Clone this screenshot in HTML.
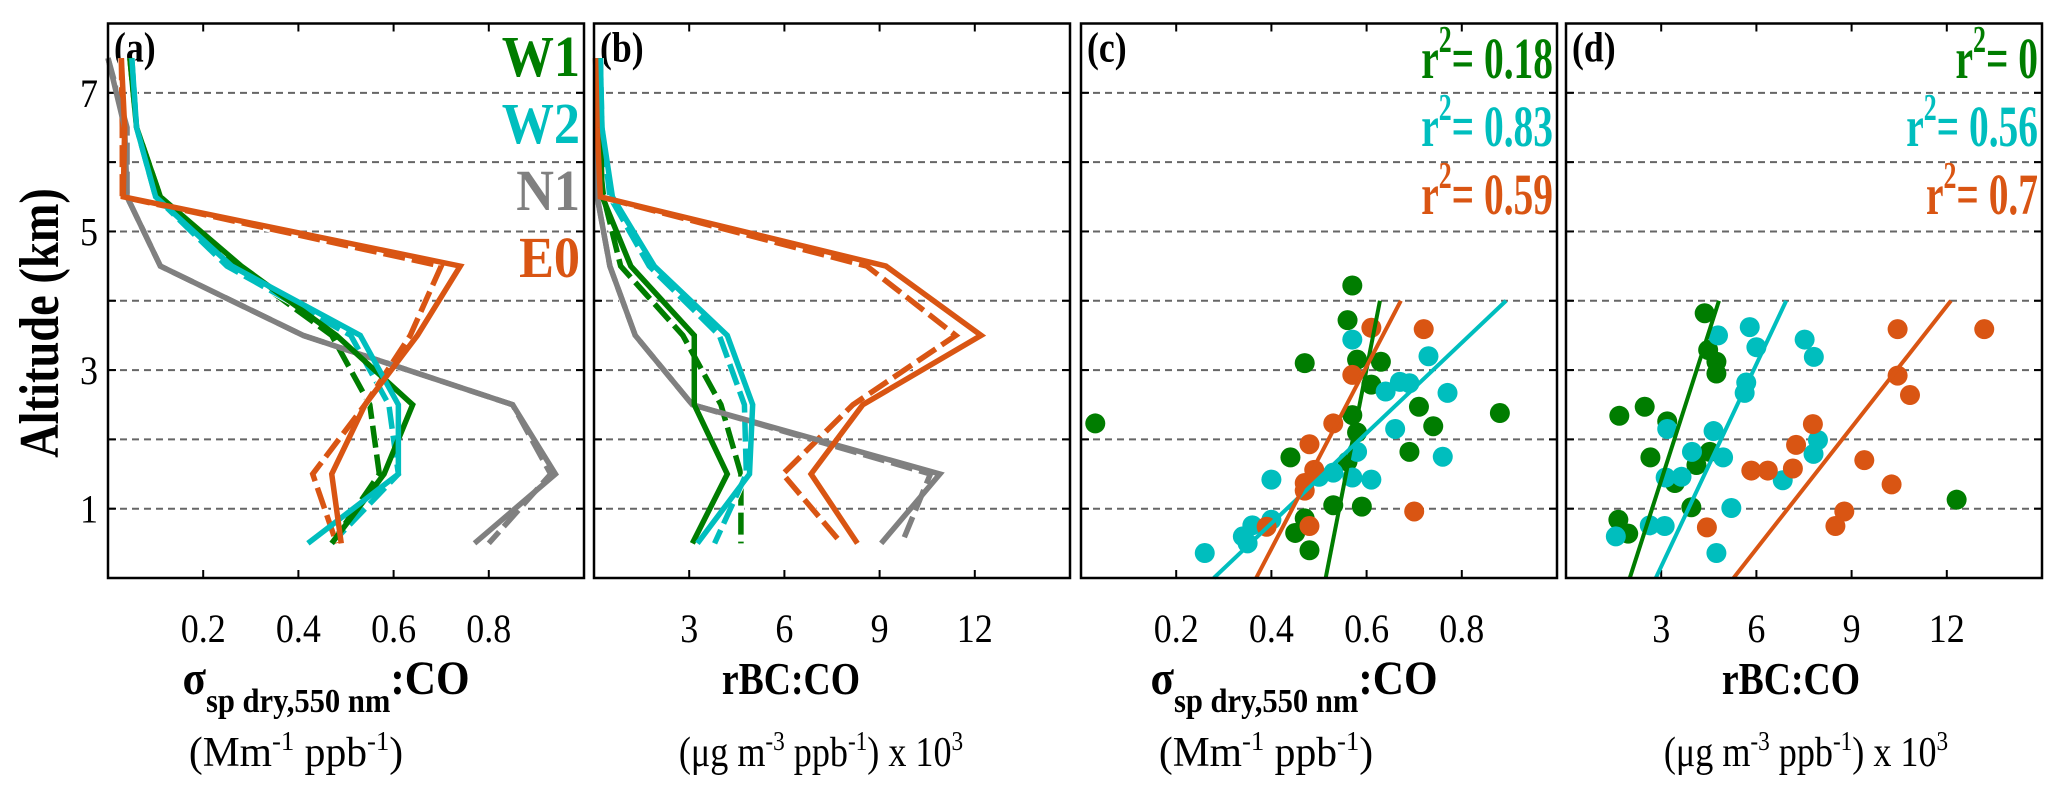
<!DOCTYPE html>
<html><head><meta charset="utf-8"><style>
html,body{margin:0;padding:0;background:#fff}
svg{display:block}
text{font-family:"Liberation Serif","Times New Roman",serif}
</style></head><body>
<svg id="fig" width="2067" height="795" viewBox="0 0 2067 795" xmlns="http://www.w3.org/2000/svg"></svg>
<script>
const altLevels=[7.5,6.5,5.5,4.5,3.5,2.5,1.5,0.5];
// panel a: sigma_sp:CO profiles
const aN1=[0.00,0.035,0.04,0.11,0.41,0.85,0.94,0.77];
const aN1d=[0.00,0.04,0.04,0.11,0.41,0.85,0.93,0.80];
const aW1=[0.046,0.06,0.11,0.28,0.48,0.64,0.58,0.47];
const aW1d=[0.046,0.06,0.11,0.27,0.47,0.55,0.57,0.47];
const aW2=[0.05,0.06,0.10,0.26,0.53,0.61,0.61,0.42];
const aW2d=[0.05,0.06,0.10,0.25,0.51,0.59,0.61,0.47];
const aE0=[0.028,0.035,0.032,0.74,0.65,0.54,0.47,0.49];
const aE0d=[0.028,0.03,0.03,0.70,0.635,0.54,0.43,0.48];
// panel b: rBC:CO profiles
const bN1=[0.05,0.1,0.1,0.5,1.3,3.1,10.9,9.05];
const bN1d=[0.05,0.1,0.1,0.5,1.3,3.1,10.6,9.7];
const bW1=[0.2,0.2,0.26,1.16,3.16,3.16,4.2,3.1];
const bW1d=[0.2,0.2,0.3,0.84,2.8,4.0,4.63,4.63];
const bW2=[0.2,0.25,0.58,1.9,4.2,5.0,4.9,3.26];
const bW2d=[0.2,0.25,0.5,1.74,3.95,4.74,4.8,3.8];
const bE0=[0.05,0.1,0.2,9.2,12.2,8.47,6.84,8.3];
const bE0d=[0.05,0.1,0.2,8.6,11.4,8.16,5.95,7.8];
// panel c scatter
const cW1x=[0.57,0.56,0.47,0.58,0.63,0.61,0.71,0.57,0.88,0.03,0.74,0.58,0.44,0.69,0.56,0.53,0.59,0.47,0.45,0.48];
const cW1y=[4.22,3.72,3.10,3.15,3.12,2.79,2.47,2.35,2.38,2.23,2.19,2.10,1.74,1.82,1.68,1.05,1.03,0.86,0.65,0.40];
const cW2x=[0.57,0.73,0.64,0.67,0.69,0.77,0.66,0.58,0.76,0.40,0.53,0.57,0.61,0.50,0.40,0.36,0.34,0.35,0.26];
const cW2y=[3.44,3.20,2.69,2.83,2.81,2.67,2.15,1.82,1.75,1.42,1.52,1.45,1.42,1.46,0.84,0.76,0.60,0.50,0.36];
const cE0x=[0.61,0.72,0.57,0.53,0.48,0.49,0.47,0.47,0.39,0.48,0.70];
const cE0y=[3.61,3.59,2.93,2.23,1.93,1.56,1.37,1.26,0.74,0.75,0.96];
const cFitX=[[0.514,0.628],[0.279,0.893],[0.368,0.672]];
const cR2=["0.18","0.83","0.59"];
// panel d scatter
const dW1x=[4.37,4.48,4.74,4.74,1.68,2.48,3.19,2.66,4.53,4.11,3.43,3.95,1.65,1.96,12.31];
const dW1y=[3.82,3.29,3.12,2.95,2.34,2.47,2.26,1.74,1.82,1.63,1.37,1.02,0.84,0.64,1.13];
const dW2x=[5.79,4.79,6.0,7.52,7.81,5.68,5.63,3.19,4.65,3.97,4.95,3.14,3.64,7.80,7.94,6.83,5.21,2.64,3.11,1.57,4.74];
const dW2y=[3.62,3.50,3.33,3.44,3.19,2.82,2.67,2.15,2.12,1.82,1.74,1.45,1.46,1.79,1.99,1.41,1.01,0.76,0.75,0.60,0.36];
const dE0x=[10.45,13.18,10.45,10.84,7.78,7.25,5.84,6.36,7.15,9.40,10.26,8.77,8.49,4.44];
const dE0y=[3.59,3.59,2.92,2.64,2.22,1.92,1.55,1.55,1.58,1.70,1.35,0.96,0.75,0.73];
const dFitX=[[2.01,4.82],[2.83,6.94],[5.28,12.13]];
const dR2=["0","0.56","0.7"];
const fitAlt=[0,4];
const aTicks=[0.2,0.4,0.6,0.8], bTicks=[3,6,9,12];
const yTicks=[1,3,5,7], yGrid=[1,2,3,4,5,6,7];
const legendNames=["W1","W2","N1","E0"];

const C={W1:"#007d00",W2:"#00bebe",N1:"#808080",E0:"#d95513"};
const NS="http://www.w3.org/2000/svg";
const svg=document.getElementById('fig');
const TOP=23.5,BOT=578,W=476;
const lefts=[108,594,1081,1566];
const xmax=[1,15,1,15];
const titleShift=[-20,-41,-25,-13];
const unitShift=[-50,-11,-53,2];
function yS(a){return BOT-(BOT-TOP)*a/8;}
function xS(p,v){return lefts[p]+W*v/xmax[p];}
function mk(tag,attrs,parent){const e=document.createElementNS(NS,tag);for(const k in attrs)e.setAttribute(k,attrs[k]);(parent||svg).appendChild(e);return e;}
function T(x,y,size,sx,attrs,parent){
  const a=Object.assign({x:0,y:0,'font-size':size,transform:'translate('+x+','+y+') scale('+sx+',1)'},attrs);
  return mk('text',a,parent);
}

for(let p=0;p<4;p++){
  const g=mk('g',{});
  
  
  const L=lefts[p],R=L+W;
  yGrid.forEach(a=>{
    const ln=mk('line',{x1:L,x2:R,y1:yS(a),y2:yS(a),stroke:'#666','stroke-width':2,'stroke-dasharray':'7 5'},g);
    
    
    mk('line',{x1:L,x2:L+8,y1:yS(a),y2:yS(a),stroke:'#000','stroke-width':2},g);
    mk('line',{x1:R-8,x2:R,y1:yS(a),y2:yS(a),stroke:'#000','stroke-width':2},g);
  });
  const ticks=(p%2==0)?aTicks:bTicks;
  ticks.forEach(t=>{
    const x=xS(p,t);
    mk('line',{x1:x,x2:x,y1:TOP,y2:TOP+8,stroke:'#000','stroke-width':2},g);
    mk('line',{x1:x,x2:x,y1:BOT-8,y2:BOT,stroke:'#000','stroke-width':2},g);
    const tx=T(x,642,40,0.9,{'text-anchor':'middle'},g);
    tx.textContent=t;
    
    
  });
  const lab=T(L+6,TOP+38,42,0.85,{'font-weight':'bold'},g);
  lab.textContent='('+'abcd'[p]+')';
  
  
}

function profile(p,vals,col,dashed,name){
  const pts=vals.map((v,i)=>xS(p,v)+','+yS(altLevels[i])).join(' ');
  if(dashed){
    mk('polyline',{points:pts,fill:'none',stroke:'#fff','stroke-width':7,'stroke-linejoin':'miter'});
  }
  const pl=mk('polyline',{points:pts,fill:'none',stroke:col,'stroke-width':5.5,'stroke-linejoin':'miter','stroke-dasharray':dashed?'22 7':'none'});
  
  
}
const aSets=[[aN1,aN1d,'N1'],[aW1,aW1d,'W1'],[aW2,aW2d,'W2'],[aE0,aE0d,'E0']];
const bSets=[[bN1,bN1d,'N1'],[bW1,bW1d,'W1'],[bW2,bW2d,'W2'],[bE0,bE0d,'E0']];
aSets.forEach(s=>profile(0,s[1],C[s[2]],true,'profile-a-'+s[2].toLowerCase()+'-dashed'));
aSets.forEach(s=>profile(0,s[0],C[s[2]],false,'profile-a-'+s[2].toLowerCase()));
bSets.forEach(s=>profile(1,s[1],C[s[2]],true,'profile-b-'+s[2].toLowerCase()+'-dashed'));
bSets.forEach(s=>profile(1,s[0],C[s[2]],false,'profile-b-'+s[2].toLowerCase()));

function scatter(p,xs,ys,col,name){
  xs.forEach((v,i)=>{
    const c=mk('circle',{cx:xS(p,v),cy:yS(ys[i]),r:10,fill:col});
    
    
  });
}
function fit(p,xx,col,name){
  const l=mk('line',{x1:xS(p,xx[0]),y1:yS(fitAlt[0]),x2:xS(p,xx[1]),y2:yS(fitAlt[1]),stroke:col,'stroke-width':4});
  
  
}
scatter(2,cW1x,cW1y,C.W1,'point-c-w1');
scatter(2,cW2x,cW2y,C.W2,'point-c-w2');
scatter(2,cE0x,cE0y,C.E0,'point-c-e0');
fit(2,cFitX[0],C.W1,'fit-c-w1');fit(2,cFitX[1],C.W2,'fit-c-w2');fit(2,cFitX[2],C.E0,'fit-c-e0');
scatter(3,dW1x,dW1y,C.W1,'point-d-w1');
scatter(3,dW2x,dW2y,C.W2,'point-d-w2');
scatter(3,dE0x,dE0y,C.E0,'point-d-e0');
fit(3,dFitX[0],C.W1,'fit-d-w1');fit(3,dFitX[1],C.W2,'fit-d-w2');fit(3,dFitX[2],C.E0,'fit-d-e0');

for(let p=0;p<4;p++){
  const f=mk('rect',{x:lefts[p],y:TOP,width:W,height:BOT-TOP,fill:'none',stroke:'#000','stroke-width':2.5});
  
  
}
const lc=[C.W1,C.W2,C.N1,C.E0];
legendNames.forEach((n,i)=>{
  const t=T(lefts[0]+W-4,76+i*67,58,0.9,{'font-weight':'bold','text-anchor':'end',fill:lc[i]});
  t.textContent=n;
  
  
});
function r2(p,vals){
  vals.forEach((v,i)=>{
    const t=T(lefts[p]+W-4,78+i*68,58,0.68,{'font-weight':'bold','text-anchor':'end',fill:lc[i==2?3:i]});
    t.innerHTML='r<tspan dy="-26" font-size="38">2</tspan><tspan dy="26">= '+v+'</tspan>';
    
    
  });
}
r2(2,cR2);r2(3,dR2);
yTicks.forEach(a=>{
  const t=T(98,yS(a)+14,40,0.9,{'text-anchor':'end'});
  t.textContent=a;
  
  
});
const yt=mk('text',{x:0,y:0,'font-size':56,'font-weight':'bold','text-anchor':'middle',transform:'translate(58,323) rotate(-90) scale(0.83,1)'});
yt.textContent='Altitude (km)';


for(let p=0;p<4;p++){
  const cx=lefts[p]+W/2;
  const sig=(p%2==0);
  const t=T(cx+titleShift[p],694,sig?48:46,sig?0.9:0.82,{'font-weight':'bold','text-anchor':'middle'});
  if(sig){t.innerHTML='σ<tspan dy="18" font-size="34">sp dry,550 nm</tspan><tspan dy="-18">:CO</tspan>';}
  else t.textContent='rBC:CO';
  
  
  const u=T(cx+unitShift[p],766,42,sig?0.99:0.86,{'text-anchor':'middle'});
  if(sig)u.innerHTML='(Mm<tspan dy="-16" font-size="27">-1</tspan><tspan dy="16"> ppb</tspan><tspan dy="-16" font-size="27">-1</tspan><tspan dy="16">)</tspan>';
  else u.innerHTML='(μg m<tspan dy="-16" font-size="27">-3</tspan><tspan dy="16"> ppb</tspan><tspan dy="-16" font-size="27">-1</tspan><tspan dy="16">) x 10</tspan><tspan dy="-16" font-size="27">3</tspan>';
  
  
}
</script>
</body></html>
